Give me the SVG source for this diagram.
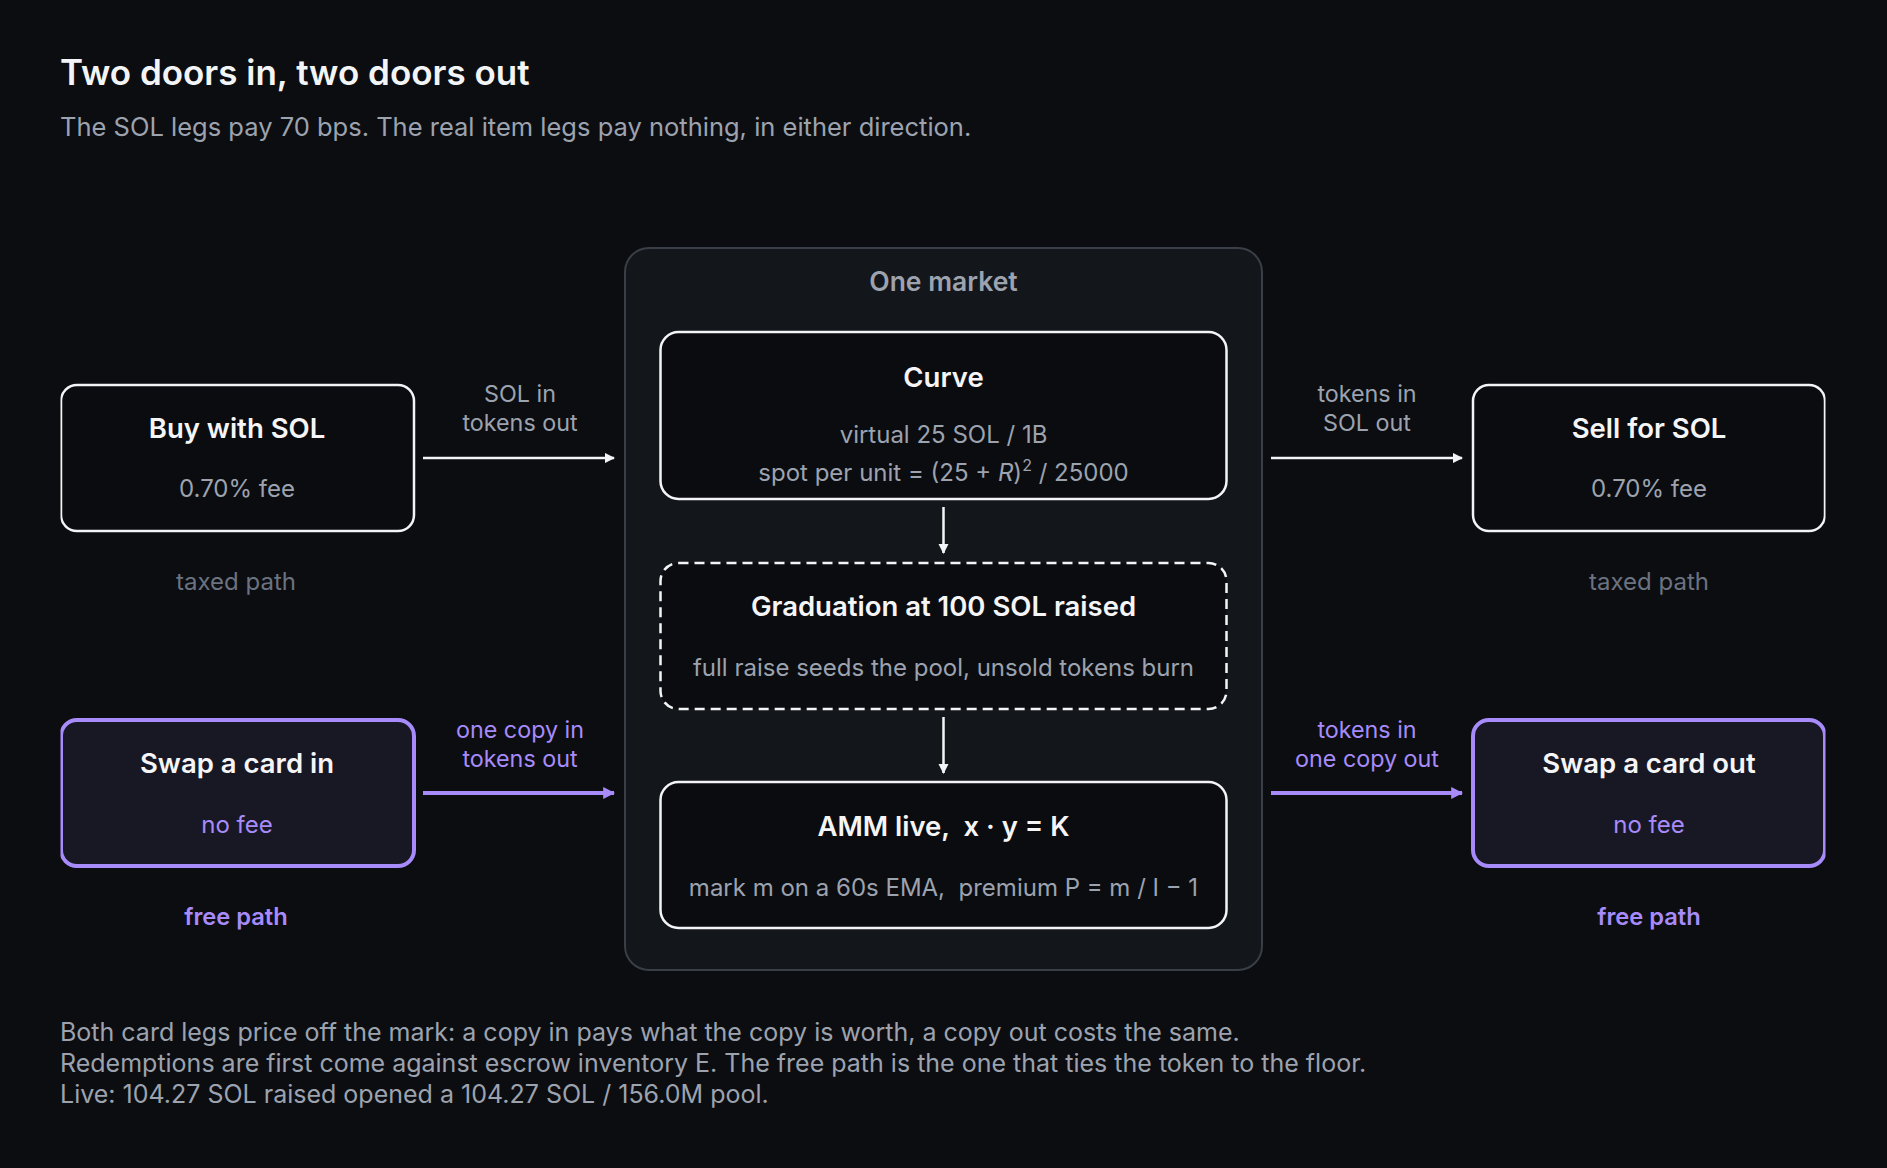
<svg xmlns="http://www.w3.org/2000/svg" width="1887" height="1168" viewBox="0 0 1887 1168">
  <defs>
    <style>
      text { font-family: Inter, "Noto Sans", "Liberation Sans", sans-serif; }
      .title { font-size: 35px; font-weight: 600; fill: #f3f4f6; }
      .sub { font-size: 25.5px; fill: #9ca3af; }
      .grp { font-size: 26.5px; font-weight: 600; fill: #9ca3af; text-anchor: middle; }
      .bt { font-size: 27.5px; font-weight: 600; fill: #f5f5f7; text-anchor: middle; }
      .bs { font-size: 24px; fill: #9ca3af; text-anchor: middle; }
      .bsp { font-size: 24px; fill: #a78bfa; text-anchor: middle; }
      .lbl { font-size: 23.3px; fill: #9ca3af; text-anchor: middle; }
      .lblp { font-size: 23.3px; fill: #a78bfa; text-anchor: middle; }
      .taxed { font-size: 24px; fill: #6b7280; text-anchor: middle; }
      .free { font-size: 23.7px; font-weight: 600; fill: #a78bfa; text-anchor: middle; }
      .foot { font-size: 25px; fill: #9ca3af; }
      .box { fill: #0b0c0f; stroke: #f3f4f6; stroke-width: 2.5; }
      .boxp { fill: #181824; stroke: #a78bfa; stroke-width: 4; }
      .dash { fill: #0b0c0f; stroke: #f3f4f6; stroke-width: 2.5; stroke-dasharray: 10 6; }
      .cont { fill: #13161b; stroke: #3a3f47; stroke-width: 2; }
      .ln { stroke: #f3f4f6; stroke-width: 2.5; fill: none; }
      .lnp { stroke: #a78bfa; stroke-width: 4; fill: none; }
    </style>
    <marker id="ah" viewBox="0 0 10 10" refX="9" refY="5" markerWidth="4.2" markerHeight="4.2" markerUnits="strokeWidth" orient="auto">
      <path d="M0,0 L10,5 L0,10 z" fill="#f3f4f6"/>
    </marker>
    <marker id="ahp" viewBox="0 0 10 10" refX="9" refY="5" markerWidth="3" markerHeight="3" markerUnits="strokeWidth" orient="auto">
      <path d="M0,0 L10,5 L0,10 z" fill="#a78bfa"/>
    </marker>
    <clipPath id="clip">
      <rect x="60.5" y="0" width="1765" height="1168"/>
    </clipPath>
  </defs>

  <rect x="0" y="0" width="1887" height="1168" fill="#0c0d11"/>

  <text class="title" x="60" y="85">Two doors in, two doors out</text>
  <text class="sub" x="60" y="136">The SOL legs pay 70 bps. The real item legs pay nothing, in either direction.</text>

  <g id="market">
    <rect class="cont" x="625" y="248" width="637" height="722" rx="24"/>
    <text class="grp" x="943.5" y="291">One market</text>
  </g>

  <g id="curve">
    <rect class="box" x="660.5" y="332" width="566" height="167" rx="18"/>
    <text class="bt" x="943.5" y="387">Curve</text>
    <text class="bs" x="943.5" y="443">virtual 25 SOL / 1B</text>
    <text class="bs" x="943.5" y="481">spot per unit = (25 + <tspan font-style="italic">R</tspan>)<tspan font-size="16" dy="-10">2</tspan><tspan dy="10"> / 25000</tspan></text>
  </g>

  <g id="graduation">
    <rect class="dash" x="660.5" y="563" width="566" height="146" rx="18"/>
    <text class="bt" x="943.5" y="616">Graduation at 100 SOL raised</text>
    <text class="bs" x="943.5" y="676">full raise seeds the pool, unsold tokens burn</text>
  </g>

  <g id="amm">
    <rect class="box" x="660.5" y="782" width="566" height="146" rx="18"/>
    <text class="bt" x="943.5" y="836" xml:space="preserve">AMM live,  x · y = K</text>
    <text class="bs" x="943.5" y="896" xml:space="preserve">mark m on a 60s EMA,  premium P = m / I − 1</text>
  </g>

  <g clip-path="url(#clip)">
    <g id="buy">
      <rect class="box" x="61" y="385" width="353" height="146" rx="16"/>
      <text class="bt" x="237" y="438">Buy with SOL</text>
      <text class="bs" x="237" y="497">0.70% fee</text>
    </g>
    <g id="sell">
      <rect class="box" x="1473" y="385" width="352" height="146" rx="16"/>
      <text class="bt" x="1649" y="438">Sell for SOL</text>
      <text class="bs" x="1649" y="497">0.70% fee</text>
    </g>
    <g id="swapin">
      <rect class="boxp" x="61" y="720" width="353" height="146" rx="16"/>
      <text class="bt" x="237" y="773">Swap a card in</text>
      <text class="bsp" x="237" y="833">no fee</text>
    </g>
    <g id="swapout">
      <rect class="boxp" x="1473" y="720" width="352" height="146" rx="16"/>
      <text class="bt" x="1649" y="773">Swap a card out</text>
      <text class="bsp" x="1649" y="833">no fee</text>
    </g>
  </g>

  <g id="pathlabels">
    <text class="taxed" x="236" y="590">taxed path</text>
    <text class="taxed" x="1649" y="590">taxed path</text>
    <text class="free" x="236" y="925">free path</text>
    <text class="free" x="1649" y="925">free path</text>
  </g>

  <g id="connectors">
    <line class="ln" x1="423" y1="458" x2="614" y2="458" marker-end="url(#ah)"/>
    <text class="lbl" x="520" y="402">SOL in</text>
    <text class="lbl" x="520" y="431">tokens out</text>

    <line class="ln" x1="1271" y1="458" x2="1462" y2="458" marker-end="url(#ah)"/>
    <text class="lbl" x="1367" y="402">tokens in</text>
    <text class="lbl" x="1367" y="431">SOL out</text>

    <line class="lnp" x1="423" y1="793" x2="614" y2="793" marker-end="url(#ahp)"/>
    <text class="lblp" x="520" y="738">one copy in</text>
    <text class="lblp" x="520" y="767">tokens out</text>

    <line class="lnp" x1="1271" y1="793" x2="1462" y2="793" marker-end="url(#ahp)"/>
    <text class="lblp" x="1367" y="738">tokens in</text>
    <text class="lblp" x="1367" y="767">one copy out</text>

    <line class="ln" x1="943.5" y1="507" x2="943.5" y2="553" marker-end="url(#ah)"/>
    <line class="ln" x1="943.5" y1="717" x2="943.5" y2="773" marker-end="url(#ah)"/>
  </g>

  <g id="footer">
    <text class="foot" x="60" y="1041">Both card legs price off the mark: a copy in pays what the copy is worth, a copy out costs the same.</text>
    <text class="foot" x="60" y="1072">Redemptions are first come against escrow inventory E. The free path is the one that ties the token to the floor.</text>
    <text class="foot" x="60" y="1103">Live: 104.27 SOL raised opened a 104.27 SOL / 156.0M pool.</text>
  </g>
</svg>
